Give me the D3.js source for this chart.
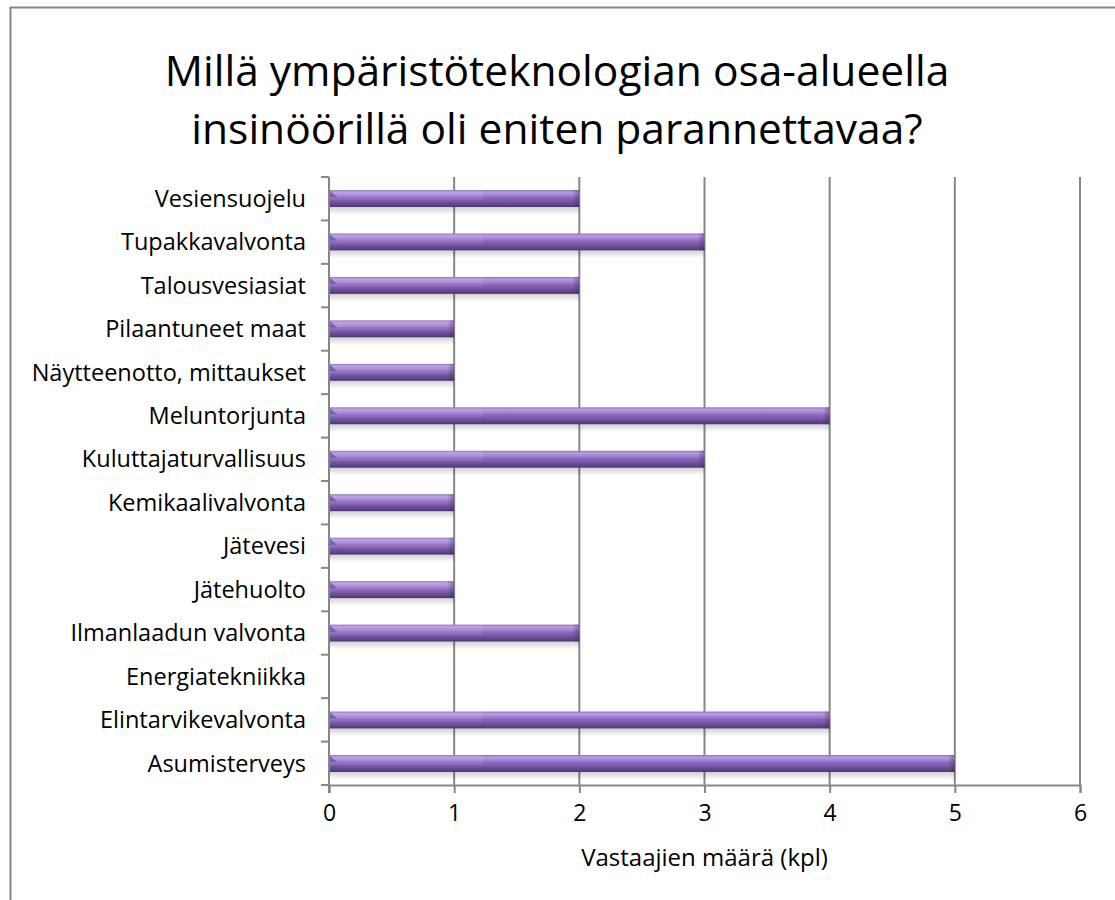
<!DOCTYPE html>
<html>
<head>
<meta charset="utf-8">
<script src="https://cdn.jsdelivr.net/npm/d3@7"></script>
<style>
  html, body { margin: 0; padding: 0; background: #fff; }
  svg { display: block; }
  text { font-family: "Open Sans", "Noto Sans", sans-serif; fill: #000; }
</style>
</head>
<body>
<svg id="chart" width="1115" height="900"></svg>
<script>
// Survey answers: in which sub-area of environmental technology the engineers had most to improve
const categories = [
  "Vesiensuojelu",
  "Tupakkavalvonta",
  "Talousvesiasiat",
  "Pilaantuneet maat",
  "Näytteenotto, mittaukset",
  "Meluntorjunta",
  "Kuluttajaturvallisuus",
  "Kemikaalivalvonta",
  "Jätevesi",
  "Jätehuolto",
  "Ilmanlaadun valvonta",
  "Energiatekniikka",
  "Elintarvikevalvonta",
  "Asumisterveys"
];
const counts = [2, 3, 2, 1, 1, 4, 3, 1, 1, 1, 2, 0, 4, 5];
const xTicks = [0, 1, 2, 3, 4, 5, 6];
const titleLines = ["Millä ympäristöteknologian osa-alueella", "insinöörillä oli eniten parannettavaa?"];
const xAxisTitle = "Vastaajien määrä (kpl)";

const svg = d3.select("#chart");
const plot = { left: 329, right: 1080, top: 177, bottom: 785 };

const x = d3.scaleLinear().domain([0, 6]).range([plot.left, plot.right]);
const y = d3.scaleBand().domain(categories).range([plot.top, plot.bottom]).paddingInner(0.61).paddingOuter(0.3);

// outer chart frame (runs past the right and bottom edges)
svg.append("rect")
  .attr("x", 10.5).attr("y", 7.5).attr("width", 1120).attr("height", 910)
  .attr("fill", "#fff").attr("stroke", "#868686").attr("stroke-width", 2);

// gradients for the shaded bars
const defs = svg.append("defs");
const gv = defs.append("linearGradient").attr("id", "barV").attr("x1", 0).attr("y1", 0).attr("x2", 0).attr("y2", 1);
[[0, "#8b6cb8"], [0.12, "#b89de2"], [0.3, "#a585d6"], [0.45, "#8a68bb"], [0.7, "#7254a3"], [0.88, "#5d4388"], [1, "#4a356e"]]
  .forEach(([o, c]) => gv.append("stop").attr("offset", o).attr("stop-color", c));

const gs = defs.append("linearGradient").attr("id", "shadow").attr("x1", 0).attr("y1", 0).attr("x2", 0).attr("y2", 1);
gs.append("stop").attr("offset", 0).attr("stop-color", "#000").attr("stop-opacity", 0.18);
gs.append("stop").attr("offset", 1).attr("stop-color", "#000").attr("stop-opacity", 0);

const gEnd = defs.append("linearGradient").attr("id", "barEnd").attr("x1", 0).attr("y1", 0).attr("x2", 1).attr("y2", 0);
gEnd.append("stop").attr("offset", 0).attr("stop-color", "#3c2c56").attr("stop-opacity", 0);
gEnd.append("stop").attr("offset", 1).attr("stop-color", "#3c2c56").attr("stop-opacity", 0.45);

// vertical gridlines
svg.append("g").selectAll("line")
  .data(xTicks.filter(d => d > 0))
  .join("line")
  .attr("x1", d => x(d)).attr("x2", d => x(d))
  .attr("y1", plot.top).attr("y2", plot.bottom)
  .attr("stroke", "#878787").attr("stroke-width", 2);

// bars
const bh = y.bandwidth();
const bars = svg.append("g").selectAll("g")
  .data(categories.map((c, i) => ({ c, v: counts[i] })).filter(d => d.v > 0))
  .join("g");

bars.append("rect")
  .attr("x", x(0)).attr("y", d => y(d.c) + bh)
  .attr("width", d => x(d.v) - x(0)).attr("height", 8)
  .attr("fill", "url(#shadow)");

bars.append("rect")
  .attr("x", x(0)).attr("y", d => y(d.c))
  .attr("width", d => x(d.v) - x(0)).attr("height", bh)
  .attr("fill", "url(#barV)");

// lighter sheen on the left stretch of every bar
bars.append("rect")
  .attr("x", x(0)).attr("y", d => y(d.c))
  .attr("width", d => Math.min(x(d.v), x(1.23)) - x(0)).attr("height", bh * 0.6)
  .attr("fill", "#fff").attr("opacity", 0.08);

// bevelled left end
bars.append("path")
  .attr("d", d => {
    const x0 = x(0), y0 = y(d.c);
    return `M${x0},${y0}L${x0 + 8},${y0 + 7}L${x0},${y0 + 7}Z`;
  })
  .attr("fill", "#6b519a").attr("opacity", 0.75);

// darker right end
bars.append("rect")
  .attr("x", d => x(d.v) - 7).attr("y", d => y(d.c))
  .attr("width", 7).attr("height", bh)
  .attr("fill", "url(#barEnd)");

// category axis line and ticks
svg.append("line")
  .attr("x1", x(0)).attr("x2", x(0)).attr("y1", plot.top).attr("y2", plot.bottom + 8)
  .attr("stroke", "#878787").attr("stroke-width", 2);
const step = (plot.bottom - plot.top) / categories.length;
svg.append("g").selectAll("line")
  .data(d3.range(categories.length + 1))
  .join("line")
  .attr("x1", x(0) - 8).attr("x2", x(0))
  .attr("y1", i => plot.top + i * step).attr("y2", i => plot.top + i * step)
  .attr("stroke", "#878787").attr("stroke-width", 2);

// value axis
const xAxis = svg.append("g")
  .attr("transform", `translate(0,${plot.bottom})`)
  .call(d3.axisBottom(x).tickValues(xTicks).tickFormat(d3.format("d")).tickSize(8).tickPadding(12));
xAxis.select(".domain").attr("stroke", "#878787").attr("stroke-width", 2);
xAxis.selectAll(".tick line").attr("stroke", "#878787").attr("stroke-width", 2);
xAxis.selectAll(".tick text").attr("font-size", 23).attr("fill", "#000");

// category labels
svg.append("g").selectAll("text")
  .data(categories)
  .join("text")
  .attr("x", 306)
  .attr("y", d => y(d) + bh / 2)
  .attr("dy", "0.35em")
  .attr("text-anchor", "end")
  .attr("font-size", 23.5)
  .text(d => d);

// axis title
svg.append("text")
  .attr("x", (plot.left + plot.right) / 2).attr("y", 866)
  .attr("text-anchor", "middle").attr("font-size", 24)
  .text(xAxisTitle);

// chart title
svg.append("g").selectAll("text")
  .data(titleLines)
  .join("text")
  .attr("x", 557)
  .attr("y", (d, i) => 86 + i * 58)
  .attr("text-anchor", "middle")
  .attr("font-size", 42.5)
  .text(d => d);
</script>
</body>
</html>
